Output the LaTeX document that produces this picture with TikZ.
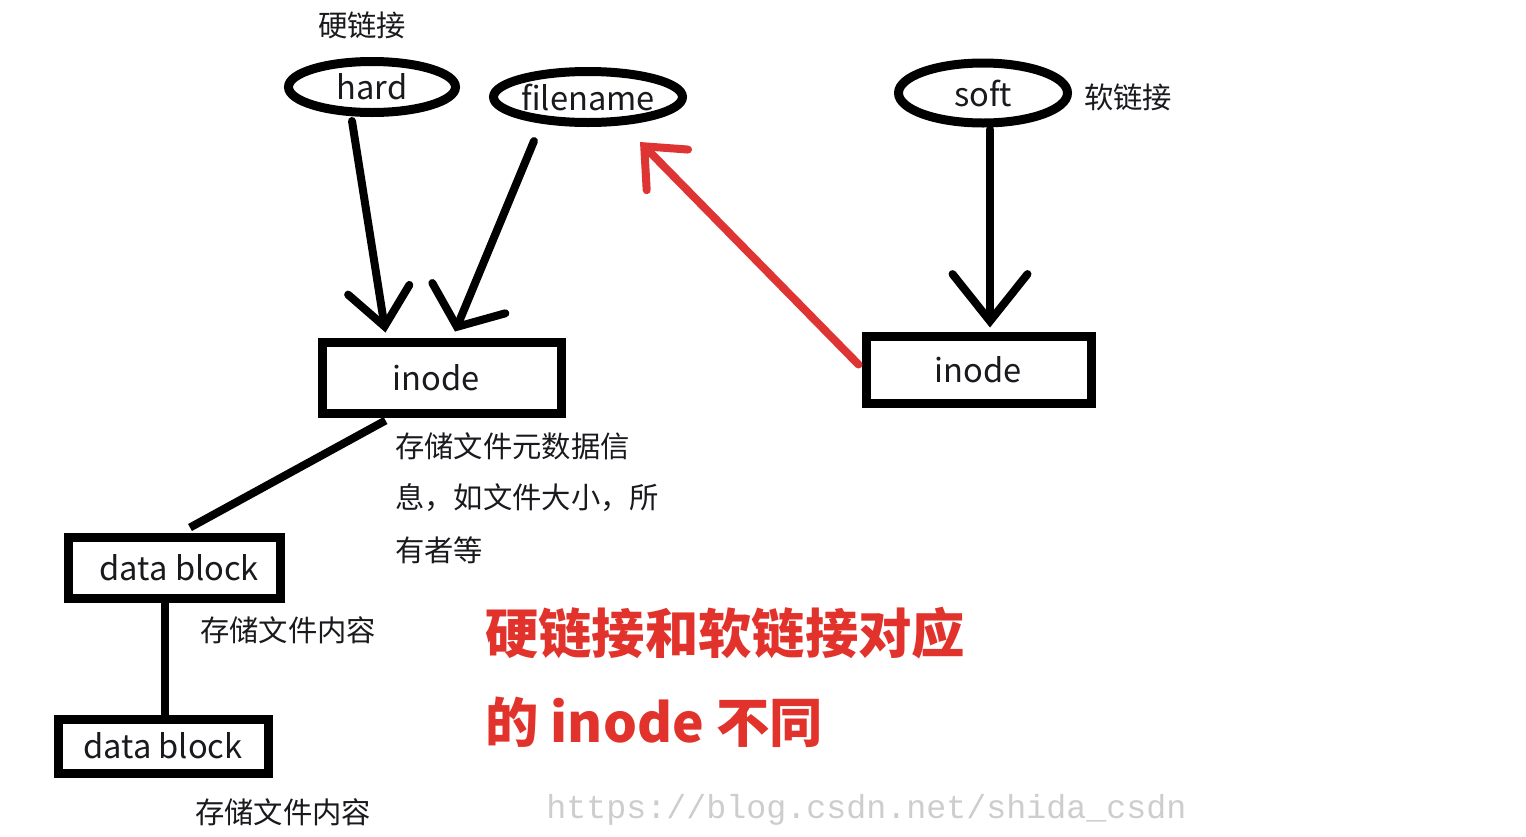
\documentclass[tikz,border=0pt]{standalone}
\usepackage{fontspec}
\setmainfont{Noto Sans CJK SC}
\newfontfamily\wmfont{Liberation Mono}
\usetikzlibrary{shapes.geometric,arrows.meta,calc}
\definecolor{ink}{RGB}{25,25,30}
\definecolor{redline}{RGB}{222,52,52}
\definecolor{redtext}{RGB}{226,50,44}
\definecolor{wmgray}{RGB}{205,205,205}
\def\pxu{0.75pt}
\tikzset{
  ov/.style={draw=black, line width=9*\pxu, ellipse, inner sep=0pt, font=\fontsize{24.5}{28}\selectfont, text=ink},
  box/.style={draw=black, line width=9*\pxu, rectangle, inner sep=0pt, font=\fontsize{24.5}{28}\selectfont, text=ink},
  note/.style={font=\fontsize{22}{26}\selectfont, text=ink, inner sep=0pt},
  conn/.style={line width=8*\pxu, line cap=round},
  bigred/.style={font=\fontsize{40}{44}\bfseries\selectfont, text=redtext, inner sep=0pt},
}
\begin{document}
\begin{tikzpicture}[x=0.75pt,y=-0.75pt]
\useasboundingbox (0,0) rectangle (1526,836);
% ellipses
\node[ov, minimum width=167*\pxu, minimum height=51*\pxu] (hard) at (372,87) {hard};
\node[ov, minimum width=189*\pxu, minimum height=51*\pxu] (fname) at (588,97) {filename};
\node[ov, minimum width=169*\pxu, minimum height=60*\pxu] (soft) at (983,93) {soft};
% boxes
\node[box, minimum width=239*\pxu, minimum height=71*\pxu] (inodeA) at (441.5,377.5) {\hspace*{-8pt}inode};
\node[box, minimum width=225*\pxu, minimum height=67*\pxu] (inodeB) at (978.5,369.5) {inode};
\node[box, minimum width=212*\pxu, minimum height=61*\pxu] (dbA) at (174,567.5) {\hspace*{8pt}data block};
\node[box, minimum width=210*\pxu, minimum height=54*\pxu] (dbB) at (163,746) {data block};
% labels
\node[note] (lhard) at (362,25) {硬链接};
\node[note] (lsoft) at (1128,97) {软链接};
\node[note, anchor=west] (m1) at (395,446) {存储文件元数据信};
\node[note, anchor=west] (m2) at (395,498) {息，如文件大小，所};
\node[note, anchor=west] (m3) at (395,550) {有者等};
\node[note, anchor=west] (c1) at (200,630) {存储文件内容};
\node[note, anchor=west] (c2) at (195,812) {存储文件内容};
\node[bigred, anchor=west] (r1) at (485,633) {硬链接和软链接对应};
\node[bigred, anchor=west] (r2) at (485,722) {的 inode 不同};
\node[anchor=west, inner sep=0pt, text=wmgray, font=\wmfont\fontsize{25}{28}\selectfont] (wm) at (546,810) {https://blog.csdn.net/shida\_csdn};
% connectors
\draw[conn, -{Straight Barb[length=37*\pxu, width=62*\pxu, line cap=round]}]
  ($(hard.south)+(-20,4)$) -- ($(inodeA.north)+(-56,-5)$);
\draw[conn, -{Straight Barb[length=31*\pxu, width=79*\pxu, line cap=round]}]
  ($(fname.south)+(-54,14)$) -- ($(inodeA.north)+(13.5,-6)$);
\draw[conn, -{Straight Barb[length=47*\pxu, width=75*\pxu, line cap=round]}]
  ($(soft.south)+(7,2)$) -- ($(inodeB.north)+(11.5,-4)$);
\draw[conn, draw=redline, line width=8*\pxu, -{Straight Barb[length=33*\pxu, width=58*\pxu, line cap=round]}]
  ($(inodeB.west)+(-3,-5)$) -- ($(fname.south)+(52,15)$);
\draw[conn, line cap=butt] ($(inodeA.south)+(-56,3)$) -- ($(dbA.north)+(16,-5)$);
\draw[conn, line cap=butt] ($(dbA.south)+(-9,0)$) -- ($(dbB.north)+(2,0)$);
\end{tikzpicture}
\end{document}
